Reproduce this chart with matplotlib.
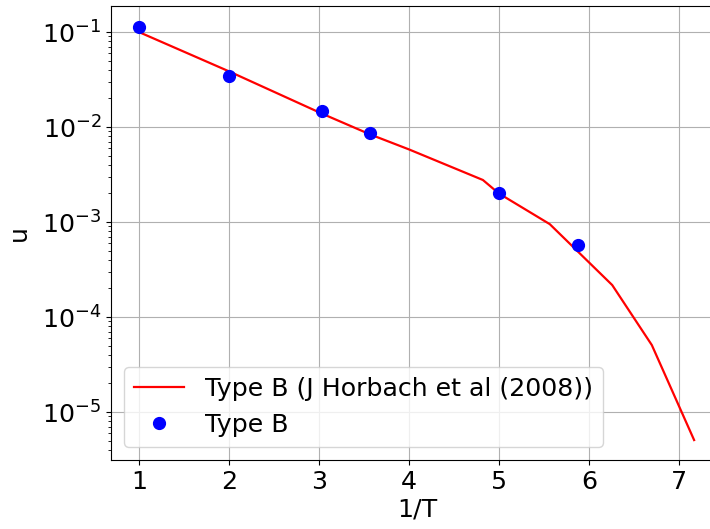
import matplotlib
matplotlib.use("Agg")
import matplotlib.pyplot as plt
import numpy as np

# Reference curve: Type B (J Horbach et al (2008))
ref_x = [1.0, 2.0, 3.03, 3.57, 4.0, 4.823, 5.0, 5.566, 6.26, 6.70, 7.17]
ref_D = [0.100, 0.0386, 0.0139, 0.00836, 0.00582, 0.00277, 0.00200, 9.5e-4, 2.17e-4, 5.07e-5, 5.07e-6]

# Simulation points: Type B
sim_x = [1.0, 2.0, 3.03, 3.57, 5.0, 5.876]
sim_D = [0.113, 0.0343, 0.0148, 0.00863, 0.00201, 5.75e-4]

plt.rcParams['font.size'] = 18.2

fig = plt.figure(figsize=(7.10, 5.29), dpi=100)
ax = fig.add_axes([111/710, 69/529, (724.7-111)/710, 454/529])

ax.plot(ref_x, ref_D, color='red', lw=1.6, label='Type B (J Horbach et al (2008))')
ax.plot(sim_x, sim_D, 'o', color='blue', markersize=8.5, label='Type B')
ax.set_yscale('log')
ax.set_xlim(0.69, 7.51)
ax.set_ylim(10**-5.505, 10**-0.726)
ax.set_xticks([1, 2, 3, 4, 5, 6, 7])
ax.grid(True)
ax.set_xlabel('1/T', labelpad=3)
ax.set_ylabel('u')
ax.yaxis.set_label_coords(-0.131, 0.5)
ax.legend(loc='lower left')

fig.savefig('out.png', dpi=100)
